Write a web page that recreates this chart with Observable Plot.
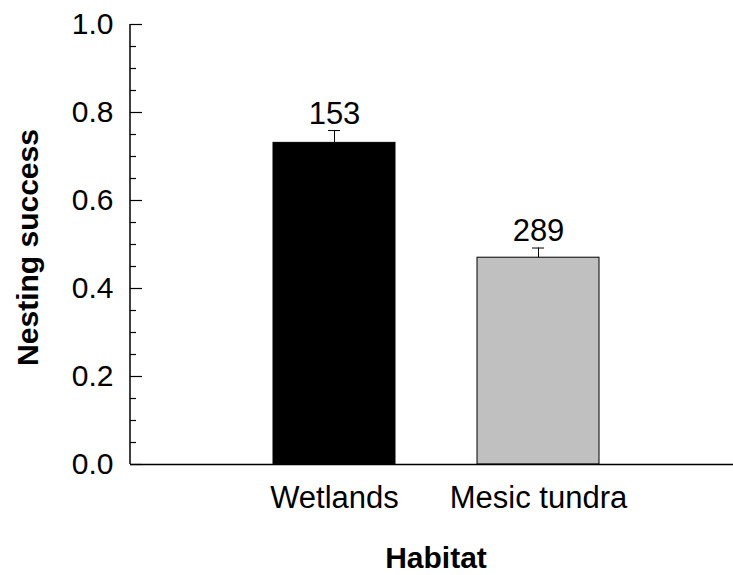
<!DOCTYPE html>
<html>
<head>
<meta charset="utf-8">
<script src="https://cdn.jsdelivr.net/npm/d3@7"></script>
<script src="https://cdn.jsdelivr.net/npm/@observablehq/plot@0.6"></script>
<style>
  html, body { margin: 0; padding: 0; background: #fff; }
  #chart svg { display: block; }
</style>
</head>
<body>
<div id="chart"></div>
<script>
const categories = ["Wetlands", "Mesic tundra"];
const success = [0.731, 0.470];
const errors = [0.028, 0.022];
const counts = [153, 289];
const yMajorTicks = [0, 0.2, 0.4, 0.6, 0.8, 1.0];
const yMinorTicks = [0.05, 0.1, 0.15, 0.25, 0.3, 0.35, 0.45, 0.5, 0.55, 0.65, 0.7, 0.75, 0.85, 0.9, 0.95];
const xTitle = ["Habitat"];
const yTitle = ["Nesting success"];

const data = categories.map((c, i) => ({habitat: c, value: success[i], err: errors[i], top: success[i] + errors[i], n: counts[i]}));

const W = 733, H = 575, ML = 130, MT = 24, MB = 111;
const font = "'Liberation Sans', Arial, Helvetica, sans-serif";

const chart = Plot.plot({
  width: W,
  height: H,
  marginLeft: ML,
  marginRight: 0,
  marginTop: MT,
  marginBottom: MB,
  style: {fontFamily: font, fontSize: "30px", color: "#000", background: "#fff"},
  x: {domain: categories, range: [130, 742], paddingInner: 0.4, paddingOuter: 0.7, label: null, axis: null},
  y: {domain: [0, 1], label: null, axis: null},
  color: {domain: categories, range: ["#000000", "#c0c0c0"]},
  marks: [
    Plot.barY(data, {x: "habitat", y: "value", fill: "habitat", stroke: "#000", strokeWidth: 1}),
    Plot.ruleX(data, {x: "habitat", y1: "value", y2: "top", stroke: "#000", strokeWidth: 1}),
    Plot.tickY(data, {x: "habitat", y: "top", stroke: "#000", strokeWidth: 1, insetLeft: 55, insetRight: 55}),
    Plot.text(data, {x: "habitat", y: "top", text: d => String(d.n), lineAnchor: "bottom", dy: -7, fontSize: 31, fill: "#000"}),
    // axis lines
    Plot.ruleY([0], {stroke: "#000", strokeWidth: 1.5}),
    Plot.rect([0], {y1: 0, y2: 1, fill: "#000", insetLeft: -0.75, insetRight: W - ML - 0.75}),
    // y ticks (inward)
    Plot.tickY(yMajorTicks, {y: d => d, stroke: "#000", strokeWidth: 1.2, insetRight: W - ML - 12}),
    Plot.tickY(yMinorTicks, {y: d => d, stroke: "#000", strokeWidth: 1.2, insetRight: W - ML - 6}),
    Plot.axisY({ticks: yMajorTicks, tickFormat: d3.format(".1f"), tickSize: 0, tickPadding: 17, fontSize: 30, label: null}),
    Plot.axisX({tickSize: 0, tickPadding: 21, fontSize: 31, label: null}),
    Plot.text(xTitle, {text: d => d, frameAnchor: "bottom", textAnchor: "middle", lineAnchor: "bottom", dy: 103, dx: 4, fontSize: 30, fontWeight: "bold", fill: "#000"}),
    Plot.text(yTitle, {text: d => d, frameAnchor: "left", textAnchor: "middle", lineAnchor: "bottom", rotate: -90, dx: -93, dy: 3, fontSize: 30, fontWeight: "bold", fill: "#000"})
  ]
});
document.getElementById("chart").appendChild(chart);
</script>
</body>
</html>
